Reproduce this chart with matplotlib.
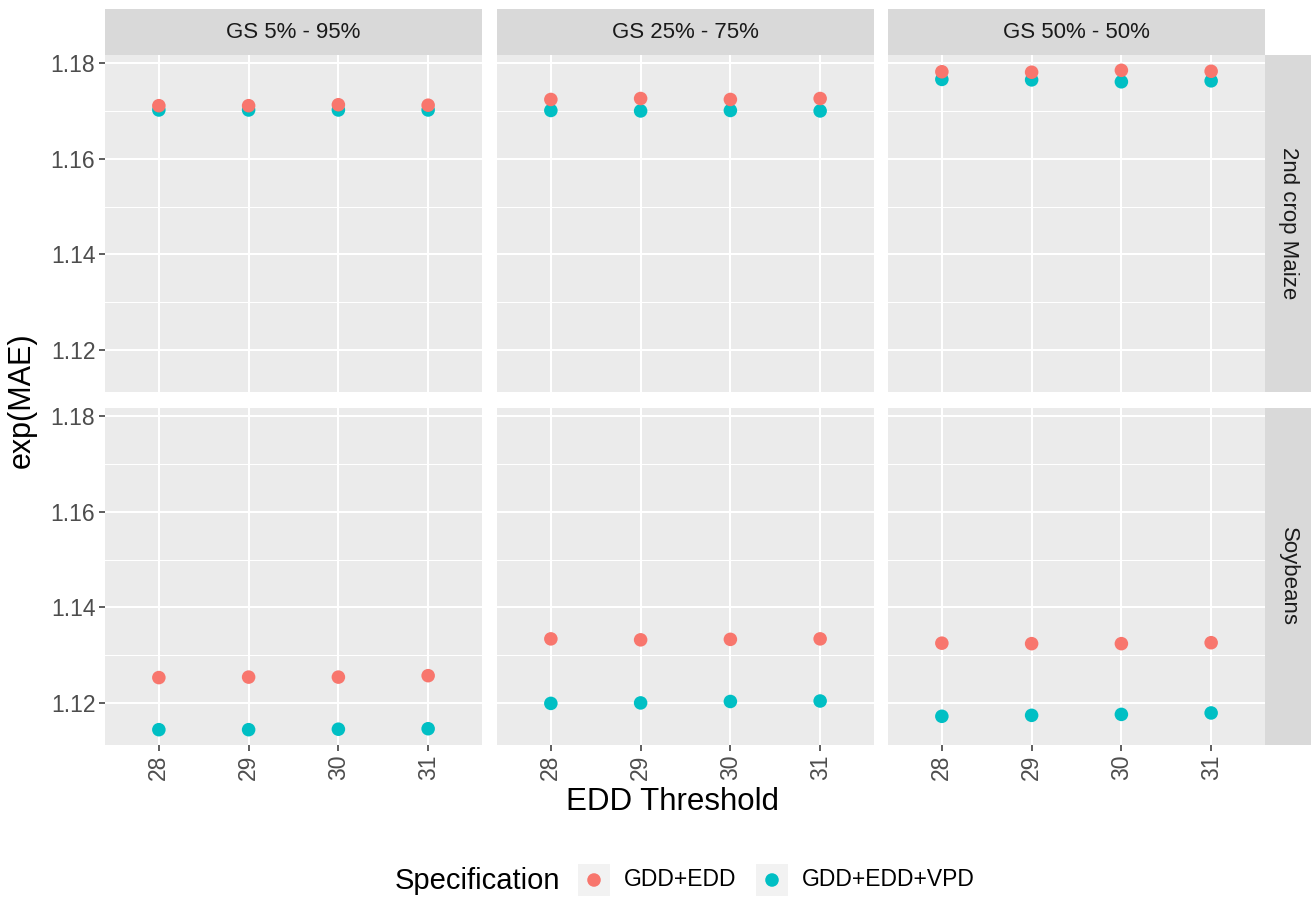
import matplotlib
matplotlib.use("Agg")
import matplotlib.pyplot as plt
from matplotlib.patches import Rectangle
import numpy as np

plt.rcParams['font.family'] = ['Liberation Sans', 'DejaVu Sans']

# ---------------- data ----------------
thresholds = [28, 29, 30, 31]
gs_windows = ["GS 5% - 95%", "GS 25% - 75%", "GS 50% - 50%"]
crops = ["2nd crop Maize", "Soybeans"]
specs = ["GDD+EDD", "GDD+EDD+VPD"]

# Maize (top row)
maize_edd_gs5 = [1.1711, 1.1711, 1.1713, 1.1712]
maize_vpd_gs5 = [1.1702, 1.1702, 1.1702, 1.1702]
maize_edd_gs25 = [1.1724, 1.1726, 1.1724, 1.1726]
maize_vpd_gs25 = [1.1701, 1.1700, 1.1701, 1.1700]
maize_edd_gs50 = [1.1782, 1.1781, 1.1785, 1.1783]
maize_vpd_gs50 = [1.1766, 1.1765, 1.1761, 1.1763]

# Soybeans (bottom row)
soy_edd_gs5 = [1.1253, 1.1254, 1.1254, 1.1257]
soy_vpd_gs5 = [1.1144, 1.1144, 1.1145, 1.1146]
soy_edd_gs25 = [1.1334, 1.1332, 1.1333, 1.1334]
soy_vpd_gs25 = [1.1199, 1.1200, 1.1203, 1.1204]
soy_edd_gs50 = [1.1325, 1.1324, 1.1324, 1.1326]
soy_vpd_gs50 = [1.1172, 1.1174, 1.1176, 1.1179]

data = {
    ("2nd crop Maize", "GS 5% - 95%"): (maize_edd_gs5, maize_vpd_gs5),
    ("2nd crop Maize", "GS 25% - 75%"): (maize_edd_gs25, maize_vpd_gs25),
    ("2nd crop Maize", "GS 50% - 50%"): (maize_edd_gs50, maize_vpd_gs50),
    ("Soybeans", "GS 5% - 95%"): (soy_edd_gs5, soy_vpd_gs5),
    ("Soybeans", "GS 25% - 75%"): (soy_edd_gs25, soy_vpd_gs25),
    ("Soybeans", "GS 50% - 50%"): (soy_edd_gs50, soy_vpd_gs50),
}

y_major = [1.12, 1.14, 1.16, 1.18]
y_minor = [1.13, 1.15, 1.17]
y_labels = ["1.12", "1.14", "1.16", "1.18"]

colors = {"GDD+EDD": "#F8766D", "GDD+EDD+VPD": "#00BFC4"}

# ---------------- layout ----------------
W, H = 1315, 899
fig = plt.figure(figsize=(W / 100, H / 100), dpi=100)
fig.patch.set_facecolor("white")

col_x = [105, 497, 888]
pw = 377
row_y = [(55, 392), (408, 745)]

all_vals = np.concatenate([np.array(v) for pair in data.values() for v in pair])
lo, hi = all_vals.min(), all_vals.max()
pad = 0.05 * (hi - lo)
ylim = (lo - pad, hi + pad)
xlim = (thresholds[0] - 0.6, thresholds[-1] + 0.6)

panel_bg = "#EBEBEB"
strip_bg = "#D9D9D9"
tick_col = "#4D4D4D"
text_col = "#1A1A1A"

def fa(x0, y0, x1, y1):
    return [x0 / W, 1 - y1 / H, (x1 - x0) / W, (y1 - y0) / H]

for ri, crop in enumerate(crops):
    for ci, gs in enumerate(gs_windows):
        y0, y1 = row_y[ri]
        ax = fig.add_axes(fa(col_x[ci], y0, col_x[ci] + pw, y1))
        ax.set_facecolor(panel_bg)
        for s in ax.spines.values():
            s.set_visible(False)
        ax.set_xlim(*xlim)
        ax.set_ylim(*ylim)
        ax.set_yticks(y_major)
        ax.set_yticks(y_minor, minor=True)
        ax.set_xticks(thresholds)
        ax.grid(which="major", color="white", linewidth=1.5, zorder=0)
        ax.grid(which="minor", axis="y", color="white", linewidth=0.75, zorder=0)
        ax.set_axisbelow(True)
        ax.tick_params(which="minor", length=0)
        ax.tick_params(which="major", length=4, width=1.1, color="#333333",
                       labelsize=16.5, labelcolor=tick_col, pad=3)
        if ci == 0:
            ax.set_yticklabels(y_labels)
        else:
            ax.tick_params(axis="y", length=0, labelleft=False)
        if ri == 1:
            ax.set_xticklabels([str(t) for t in thresholds], rotation=90)
        else:
            ax.tick_params(axis="x", length=0, labelbottom=False)

        edd, vpd = data[(crop, gs)]
        ax.scatter(thresholds, vpd, s=95, color=colors["GDD+EDD+VPD"],
                   edgecolors="none", zorder=3)
        ax.scatter(thresholds, edd, s=95, color=colors["GDD+EDD"],
                   edgecolors="none", zorder=4)

        # top strips
        if ri == 0:
            sax = fig.add_axes(fa(col_x[ci], 9, col_x[ci] + pw, 55))
            sax.set_facecolor(strip_bg)
            sax.set_xticks([]); sax.set_yticks([])
            for s in sax.spines.values():
                s.set_visible(False)
            sax.text(0.5, 0.5, gs, ha="center", va="center", fontsize=16,
                     color=text_col, transform=sax.transAxes)
        # right strips
        if ci == 2:
            sax = fig.add_axes(fa(1265, y0, 1311, y1))
            sax.set_facecolor(strip_bg)
            sax.set_xticks([]); sax.set_yticks([])
            for s in sax.spines.values():
                s.set_visible(False)
            sax.text(0.5, 0.5, crop, ha="center", va="center", fontsize=16,
                     color=text_col, rotation=-90, transform=sax.transAxes)

# axis titles
fig.text(22 / W, 1 - 400 / H, "exp(MAE)", rotation=90, ha="center", va="center",
         fontsize=22, color="black")
fig.text(673 / W, 1 - 802 / H, "EDD Threshold", ha="center", va="center",
         fontsize=22.5, color="black")

# legend (drawn manually, ggplot style: title at left, keys in a row)
lax = fig.add_axes([0, 0, 1, 1])
lax.set_xlim(0, W)
lax.set_ylim(H, 0)
lax.axis("off")
lax.patch.set_alpha(0)
ly = 880
lax.text(395, ly + 1, "Specification", ha="left", va="center", fontsize=21, color="black")
key_x = [578, 756]
text_x = [624, 802]
for spec, kx, tx in zip(specs, key_x, text_x):
    lax.add_patch(Rectangle((kx, ly - 16), 32, 32, facecolor="#F2F2F2",
                            edgecolor="none"))
    lax.scatter([kx + 16], [ly], s=95, color=colors[spec], edgecolors="none")
    lax.text(tx, ly, spec, ha="left", va="center", fontsize=16.5, color="black")

fig.savefig("out.png", dpi=100, facecolor="white")
